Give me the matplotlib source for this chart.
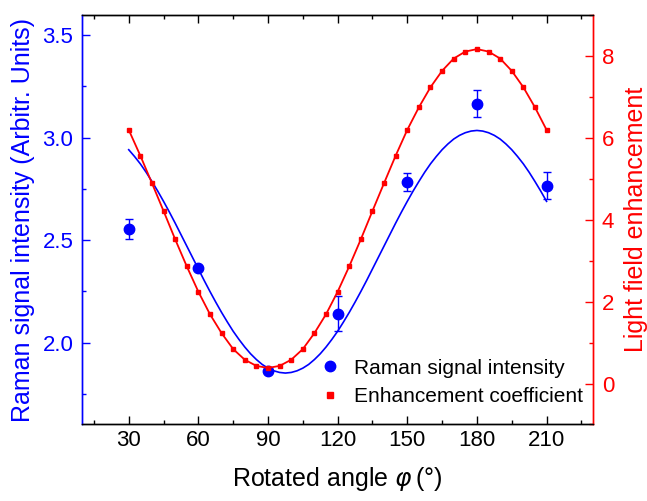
import matplotlib
matplotlib.use("Agg")
import matplotlib.pyplot as plt
from matplotlib.lines import Line2D
from matplotlib.ticker import MultipleLocator

plt.rcParams['font.family'] = ['Liberation Sans', 'DejaVu Sans']
plt.rcParams['mathtext.fontset'] = 'dejavusans'

# measured Raman intensity (blue dots with error bars)
raman_angle = [30, 60, 90, 120, 150, 180, 210]
raman_val = [2.555, 2.362, 1.863, 2.141, 2.784, 3.166, 2.766]
raman_err = [0.048, 0.01, 0.01, 0.085, 0.044, 0.065, 0.067]

# fitted curve of the Raman intensity, read every 2.5 degrees
fit_angle = [30 + 2.5 * i for i in range(73)]
fit_val = [2.941, 2.908, 2.872, 2.831, 2.786, 2.739, 2.689, 2.637, 2.583, 2.527,
           2.471, 2.415, 2.359, 2.303, 2.249, 2.197, 2.147, 2.100, 2.055, 2.015,
           1.978, 1.945, 1.917, 1.893, 1.875, 1.862, 1.854, 1.851, 1.854, 1.862,
           1.875, 1.893, 1.917, 1.945, 1.978, 2.015, 2.055, 2.100, 2.147, 2.197,
           2.249, 2.303, 2.359, 2.415, 2.471, 2.527, 2.583, 2.637, 2.689, 2.739,
           2.786, 2.831, 2.872, 2.908, 2.941, 2.969, 2.993, 3.011, 3.024, 3.032,
           3.035, 3.032, 3.024, 3.011, 2.993, 2.969, 2.941, 2.908, 2.872, 2.831,
           2.786, 2.739, 2.689]

# enhancement coefficient (red squares), every 5 degrees
enh_angle = list(range(30, 211, 5))
enh_val = [6.19, 5.56, 4.89, 4.21, 3.52, 2.86, 2.24, 1.69, 1.23, 0.84,
           0.58, 0.43, 0.38, 0.43, 0.58, 0.84, 1.23, 1.69, 2.24, 2.86,
           3.52, 4.21, 4.89, 5.56, 6.19, 6.74, 7.23, 7.63, 7.93, 8.10,
           8.16, 8.10, 7.93, 7.63, 7.23, 6.74, 6.19]

blue = '#0000ff'
red = '#ff0000'

fig = plt.figure(figsize=(6.47, 5.01), dpi=100)
ax = fig.add_axes([0.1272, 0.1527, 0.7893, 0.8180])
ax2 = ax.twinx()

ax.plot(fit_angle, fit_val, color=blue, lw=1.2, zorder=2)
ax.errorbar(raman_angle, raman_val, yerr=raman_err, fmt='none', ecolor=blue,
            elinewidth=1.0, capsize=3, capthick=1.0, zorder=3)
ax.plot(raman_angle, raman_val, 'o', color=blue, ms=7.5, zorder=4)

ax2.plot(enh_angle, enh_val, '-s', color=red, lw=1.3, ms=3.2, zorder=3)

ax.set_xlim(10, 230)
ax.set_ylim(1.6, 3.6)
ax2.set_ylim(-1, 9)

ax.xaxis.set_major_locator(MultipleLocator(30))
ax.xaxis.set_minor_locator(MultipleLocator(15))
ax.yaxis.set_major_locator(MultipleLocator(0.5))
ax.yaxis.set_minor_locator(MultipleLocator(0.25))
ax2.yaxis.set_major_locator(MultipleLocator(2))
ax2.yaxis.set_minor_locator(MultipleLocator(1))
ax.set_yticks([2.0, 2.5, 3.0, 3.5])
ax.set_yticklabels(['2.0', '2.5', '3.0', '3.5'])

ax.tick_params(axis='x', which='both', direction='in', top=True, labelsize=16, pad=4, width=1.0)
ax.tick_params(axis='x', which='major', length=5.5)
ax.tick_params(axis='x', which='minor', length=3)
ax.tick_params(axis='y', which='both', direction='in', colors=blue, labelsize=16, pad=6.5, width=1.0)
ax.tick_params(axis='y', which='major', length=5.5)
ax.tick_params(axis='y', which='minor', length=3)
ax2.tick_params(axis='y', which='both', direction='in', colors=red, labelsize=16, pad=6.3, width=1.0)
ax2.tick_params(axis='y', which='major', length=5.5)
ax2.tick_params(axis='y', which='minor', length=3)

for a in (ax, ax2):
    for s in a.spines.values():
        s.set_linewidth(1.0)
ax.spines['left'].set_color(blue)
ax2.spines['left'].set_color(blue)
ax2.spines['right'].set_color(red)
ax.spines['right'].set_color(red)

ax.set_xlabel(r'Rotated angle $\varphi\,$(°)', fontsize=18)
ax.xaxis.set_label_coords(0.5, -0.099)
ax.set_ylabel('Raman signal intensity (Arbitr. Units)', fontsize=18, color=blue)
ax.yaxis.set_label_coords(-0.093, 0.5)
ax2.set_ylabel('Light field enhancement', fontsize=18, color=red)
ax2.yaxis.set_label_coords(1.060, 0.5)

handles = [Line2D([], [], ls='none', marker='o', color=blue, ms=7.5),
           Line2D([], [], ls='none', marker='s', color=red, ms=5)]
ax2.legend(handles, ['Raman signal intensity', 'Enhancement coefficient'],
           loc='lower right', bbox_to_anchor=(0.98, 0.045), frameon=False,
           fontsize=15, handlelength=1.0, handletextpad=0.65, labelspacing=0.45,
           borderpad=0, borderaxespad=0)

fig.savefig('out.png', dpi=100)
